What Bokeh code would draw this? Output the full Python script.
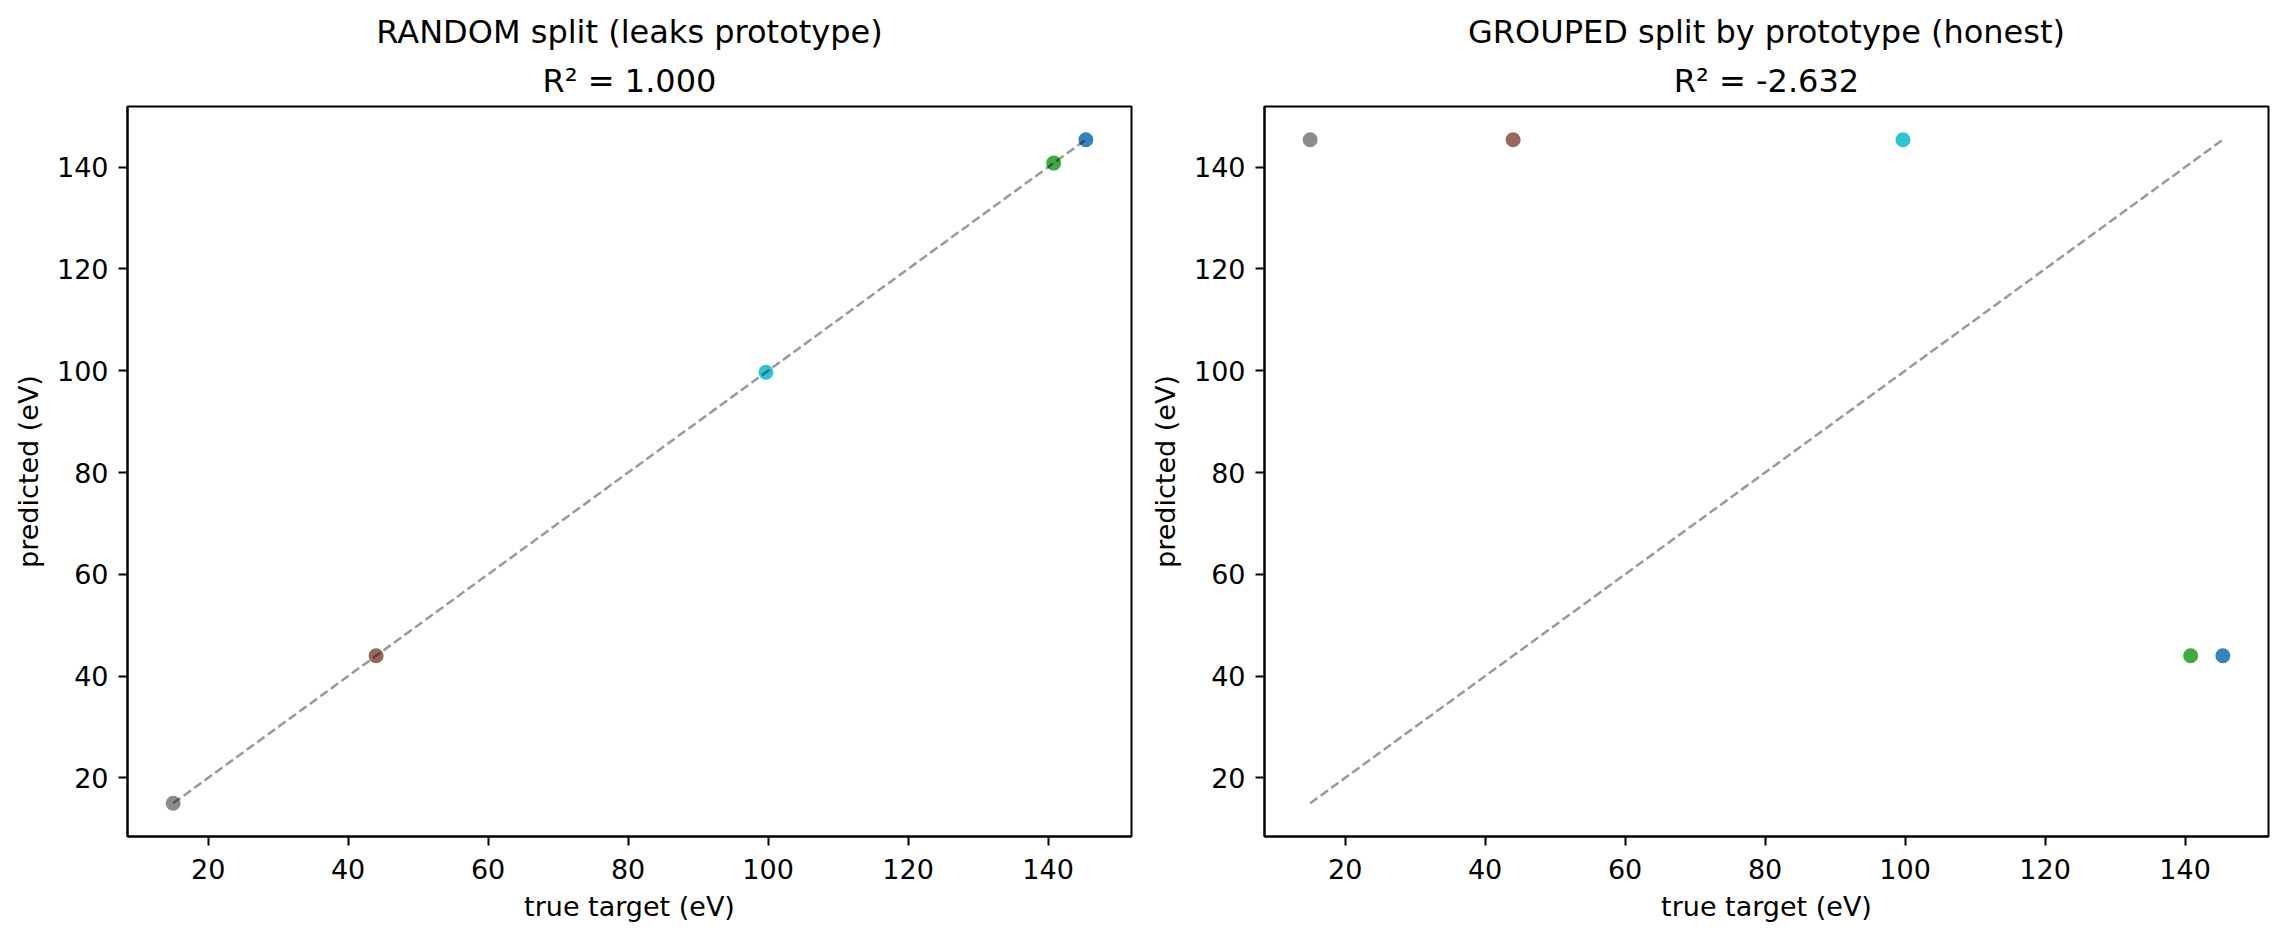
from bokeh.plotting import figure
from bokeh.models import ColumnDataSource, FixedTicker, Range1d, Title
from bokeh.layouts import row
from bokeh.embed import file_html
from bokeh.resources import INLINE

# ---- data ----
prototypes = ["blue", "green", "cyan", "brown", "gray"]
colors = ["#1f77b4", "#2ca02c", "#17becf", "#8c564b", "#7f7f7f"]
true_target = [145.4, 140.8, 99.7, 44.0, 15.0]
pred_random = [145.4, 140.8, 99.7, 44.0, 15.0]
pred_grouped = [44.0, 44.0, 145.4, 145.4, 145.4]
r2_random = "1.000"
r2_grouped = "-2.632"
ticks = [20, 40, 60, 80, 100, 120, 140]

FONT = "DejaVu Sans"
lo, hi = min(true_target), max(true_target)
pad = (hi - lo) * 0.05


def make_panel(pred, title, r2, border_left, border_right):
    p = figure(width=border_left + 1004 + border_right, height=937,
               frame_width=1004, frame_height=730,
               min_border_left=border_left, min_border_right=border_right,
               min_border_top=106, min_border_bottom=101,
               output_backend="svg", toolbar_location=None,
               x_range=Range1d(lo - pad, hi + pad),
               y_range=Range1d(min(min(pred), lo) - pad, max(max(pred), hi) + pad))
    p.background_fill_color = "white"
    p.border_fill_color = "white"
    p.grid.visible = False
    p.outline_line_color = "black"
    p.outline_line_width = 2
    p.outline_line_alpha = 1.0

    src = ColumnDataSource(dict(x=true_target, y=pred, c=colors, name=prototypes))
    p.scatter("x", "y", source=src, size=15, fill_color="c", fill_alpha=0.9,
              line_color=None)
    p.line([lo, hi], [lo, hi], line_color="black", line_alpha=0.4,
           line_width=2.5, line_dash="9 4")

    for ax in (p.xaxis[0], p.yaxis[0]):
        ax.ticker = FixedTicker(ticks=ticks)
        ax.axis_line_width = 2
        ax.major_tick_line_width = 2
        ax.major_tick_in = 0
        ax.major_tick_out = 9
        ax.minor_tick_line_color = None
        ax.major_label_text_font = FONT
        ax.major_label_text_font_size = "27px"
        ax.major_label_text_color = "black"
        ax.axis_label_text_font = FONT
        ax.axis_label_text_font_size = "27px"
        ax.axis_label_text_font_style = "normal"
        ax.axis_label_text_color = "black"
    p.xaxis.axis_label = "true target (eV)"
    p.yaxis.axis_label = "predicted (eV)"
    p.xaxis.major_label_standoff = 13
    p.yaxis.major_label_standoff = 10
    p.xaxis.axis_label_standoff = 9
    p.yaxis.axis_label_standoff = 10

    t2 = Title(text="R\u00b2 = " + r2, align="center", text_font=FONT,
               text_font_size="32px", text_font_style="normal",
               text_color="black", standoff=14)
    t1 = Title(text=title, align="center", text_font=FONT,
               text_font_size="32px", text_font_style="normal",
               text_color="black", standoff=4)
    p.add_layout(t2, "above")
    p.add_layout(t1, "above")
    return p


p1 = make_panel(pred_random, "RANDOM split (leaks prototype)", r2_random, 127, 6)
p2 = make_panel(pred_grouped, "GROUPED split by prototype (honest)", r2_grouped, 127, 16)

layout = row(p1, p2)
open("out.html", "w").write(file_html(layout, INLINE))
